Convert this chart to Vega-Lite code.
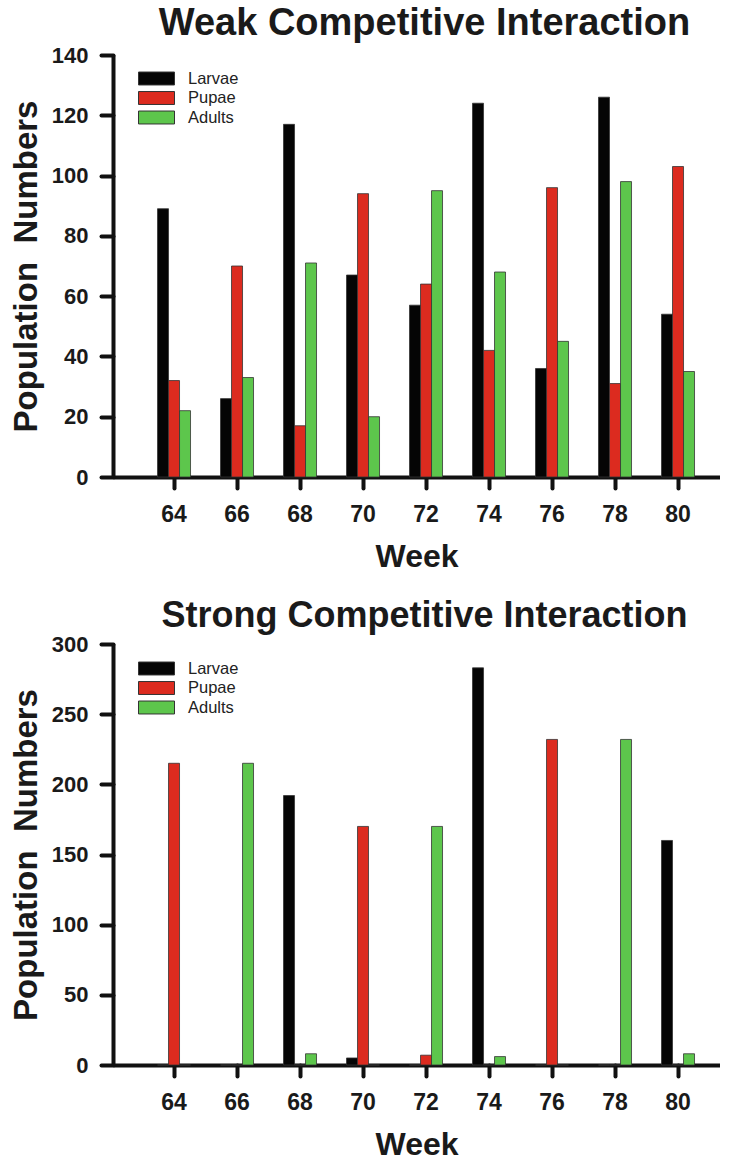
{
  "$schema": "https://vega.github.io/schema/vega-lite/v6.json",
  "background": "white",
  "padding": {"left": 10, "top": 5, "right": 0, "bottom": 0},
  "config": {
    "font": "Liberation Sans",
    "view": {"stroke": null},
    "axis": {"domainColor": "#111", "domainWidth": 4, "tickColor": "#111", "tickWidth": 4, "tickCap": "round", "labelFont": "Liberation Sans", "labelFontWeight": "bold", "labelColor": "#1a1a1a", "titleFont": "Liberation Sans", "titleFontWeight": "bold", "titleColor": "#1a1a1a", "grid": false, "zindex": 1},
    "axisX": {"labelFontSize": 23, "titleFontSize": 32, "tickSize": 11, "labelPadding": 15, "titlePadding": 15, "labelAngle": 0},
    "axisY": {"labelFontSize": 22, "titleFontSize": 33, "tickSize": 12, "labelPadding": 13, "titlePadding": 8},
    "title": {"font": "Liberation Sans", "fontWeight": "bold", "color": "#1a1a1a", "anchor": "middle", "frame": "group"},
    "legend": {"orient": "none", "legendX": 34, "title": null, "symbolType": "M-2,-0.72H2V0.72H-2Z", "symbolSize": 324, "symbolStrokeWidth": 1, "symbolStrokeColor": "#333", "symbolOpacity": 1, "labelFontSize": 16.5, "labelFont": "Liberation Sans", "labelColor": "#222", "labelOffset": 22, "rowPadding": 1.5, "padding": 0},
    "concat": {"spacing": 26}
  },
  "datasets": {
    "weak": [
      {"week": 64, "stage": "Larvae", "count": 89}, {"week": 64, "stage": "Pupae", "count": 32}, {"week": 64, "stage": "Adults", "count": 22},
      {"week": 66, "stage": "Larvae", "count": 26}, {"week": 66, "stage": "Pupae", "count": 70}, {"week": 66, "stage": "Adults", "count": 33},
      {"week": 68, "stage": "Larvae", "count": 117}, {"week": 68, "stage": "Pupae", "count": 17}, {"week": 68, "stage": "Adults", "count": 71},
      {"week": 70, "stage": "Larvae", "count": 67}, {"week": 70, "stage": "Pupae", "count": 94}, {"week": 70, "stage": "Adults", "count": 20},
      {"week": 72, "stage": "Larvae", "count": 57}, {"week": 72, "stage": "Pupae", "count": 64}, {"week": 72, "stage": "Adults", "count": 95},
      {"week": 74, "stage": "Larvae", "count": 124}, {"week": 74, "stage": "Pupae", "count": 42}, {"week": 74, "stage": "Adults", "count": 68},
      {"week": 76, "stage": "Larvae", "count": 36}, {"week": 76, "stage": "Pupae", "count": 96}, {"week": 76, "stage": "Adults", "count": 45},
      {"week": 78, "stage": "Larvae", "count": 126}, {"week": 78, "stage": "Pupae", "count": 31}, {"week": 78, "stage": "Adults", "count": 98},
      {"week": 80, "stage": "Larvae", "count": 54}, {"week": 80, "stage": "Pupae", "count": 103}, {"week": 80, "stage": "Adults", "count": 35}
    ],
    "strong": [
      {"week": 64, "stage": "Larvae", "count": 0}, {"week": 64, "stage": "Pupae", "count": 215}, {"week": 64, "stage": "Adults", "count": 0},
      {"week": 66, "stage": "Larvae", "count": 0}, {"week": 66, "stage": "Pupae", "count": 0}, {"week": 66, "stage": "Adults", "count": 215},
      {"week": 68, "stage": "Larvae", "count": 192}, {"week": 68, "stage": "Pupae", "count": 0}, {"week": 68, "stage": "Adults", "count": 8},
      {"week": 70, "stage": "Larvae", "count": 5}, {"week": 70, "stage": "Pupae", "count": 170}, {"week": 70, "stage": "Adults", "count": 0},
      {"week": 72, "stage": "Larvae", "count": 0}, {"week": 72, "stage": "Pupae", "count": 7}, {"week": 72, "stage": "Adults", "count": 170},
      {"week": 74, "stage": "Larvae", "count": 283}, {"week": 74, "stage": "Pupae", "count": 0}, {"week": 74, "stage": "Adults", "count": 6},
      {"week": 76, "stage": "Larvae", "count": 0}, {"week": 76, "stage": "Pupae", "count": 232}, {"week": 76, "stage": "Adults", "count": 0},
      {"week": 78, "stage": "Larvae", "count": 0}, {"week": 78, "stage": "Pupae", "count": 0}, {"week": 78, "stage": "Adults", "count": 232},
      {"week": 80, "stage": "Larvae", "count": 160}, {"week": 80, "stage": "Pupae", "count": 0}, {"week": 80, "stage": "Adults", "count": 8}
    ]
  },
  "resolve": {"scale": {"color": "independent"}, "legend": {"color": "independent"}},
  "vconcat": [
    {
      "title": {"text": "Weak Competitive Interaction", "fontSize": 38, "dx": 8, "offset": 1},
      "width": 607, "height": 422,
      "data": {"name": "weak"},
      "mark": {"type": "bar", "stroke": "#333", "strokeWidth": 0.8},
      "encoding": {
        "x": {"field": "week", "type": "ordinal", "scale": {"paddingInner": 0.476, "paddingOuter": 0.5555, "align": 0.636}, "axis": {"title": "Week"}},
        "xOffset": {"field": "stage", "type": "nominal", "sort": ["Larvae", "Pupae", "Adults"], "scale": {"paddingInner": 0, "paddingOuter": 0}},
        "y": {"field": "count", "type": "quantitative", "scale": {"domain": [0, 140], "nice": false}, "axis": {"title": "Population \u00a0Numbers", "values": [0, 20, 40, 60, 80, 100, 120, 140]}},
        "color": {"field": "stage", "type": "nominal", "sort": ["Larvae", "Pupae", "Adults"], "scale": {"domain": ["Larvae", "Pupae", "Adults"], "range": ["#050505", "#dc2b1f", "#5dc64c"]}, "legend": {"legendY": 14}}
      }
    },
    {
      "title": {"text": "Strong Competitive Interaction", "fontSize": 36, "dx": 8, "offset": -2},
      "width": 607, "height": 421,
      "data": {"name": "strong"},
      "mark": {"type": "bar", "stroke": "#333", "strokeWidth": 0.8},
      "encoding": {
        "x": {"field": "week", "type": "ordinal", "scale": {"paddingInner": 0.476, "paddingOuter": 0.5555, "align": 0.636}, "axis": {"title": "Week"}},
        "xOffset": {"field": "stage", "type": "nominal", "sort": ["Larvae", "Pupae", "Adults"], "scale": {"paddingInner": 0, "paddingOuter": 0}},
        "y": {"field": "count", "type": "quantitative", "scale": {"domain": [0, 300], "nice": false}, "axis": {"title": "Population \u00a0Numbers", "values": [0, 50, 100, 150, 200, 250, 300]}},
        "color": {"field": "stage", "type": "nominal", "sort": ["Larvae", "Pupae", "Adults"], "scale": {"domain": ["Larvae", "Pupae", "Adults"], "range": ["#050505", "#dc2b1f", "#5dc64c"]}, "legend": {"legendY": 15}}
      }
    }
  ]
}
